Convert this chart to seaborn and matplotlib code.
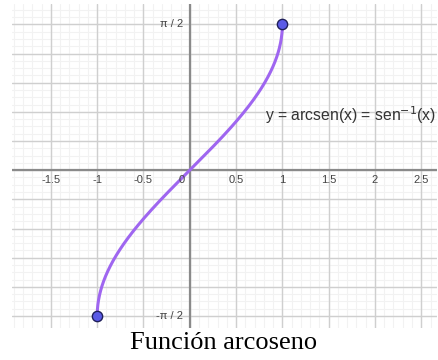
import numpy as np
import pandas as pd
import matplotlib
matplotlib.use("Agg")
import matplotlib.pyplot as plt
import seaborn as sns

# Domain of arcsin and its end points
domain = [-1.0, 1.0]
end_x = [-1.0, 1.0]
end_y = [-np.pi / 2, np.pi / 2]

x_ticks = [-1.5, -1, -0.5, 0, 0.5, 1, 1.5, 2, 2.5]
x_tick_labels = ["-1.5", "-1", "-0.5", "0", "0.5", "1", "1.5", "2", "2.5"]
y_ticks = [np.pi / 2, -np.pi / 2]
y_tick_labels = ["π / 2", "-π / 2"]

xs = np.linspace(domain[0], domain[1], 801)
curve = pd.DataFrame({"x": xs, "y": np.arcsin(xs)})
ends = pd.DataFrame({"x": end_x, "y": end_y})

sns.set_style("white")
plt.rcParams["font.family"] = ["Liberation Sans", "DejaVu Sans"]

fig = plt.figure(figsize=(4.38, 3.60), dpi=100)
ax = fig.add_axes([12 / 438, 1 - 328 / 360, 425 / 438, 324 / 360])

xmin, xmax = -1.92, 2.67
ymin, ymax = -1.70, 1.79
ax.set_xlim(xmin, xmax)
ax.set_ylim(ymin, ymax)

# grid: minor lines every 0.1 in x and pi/40 in y, major every 0.5 and pi/10
for gx in np.arange(-1.9, 2.7, 0.1):
    ax.axvline(gx, color="#f2f2f2", lw=0.8, zorder=0)
for gy in np.arange(-20, 23) * np.pi / 40:
    ax.axhline(gy, color="#f2f2f2", lw=0.8, zorder=0)
for gx in np.arange(-1.5, 2.6, 0.5):
    ax.axvline(gx, color="#cfcfcf", lw=1.0, zorder=1)
for gy in np.arange(-5, 6) * np.pi / 10:
    ax.axhline(gy, color="#cfcfcf", lw=1.0, zorder=1)

# axes
ax.axhline(0, color="#8a8a8a", lw=1.6, zorder=2)
ax.axvline(0, color="#8a8a8a", lw=1.6, zorder=2)

sns.lineplot(data=curve, x="x", y="y", ax=ax, color="#9f66f0", lw=2.2,
             zorder=3, sort=False)
sns.scatterplot(data=ends, x="x", y="y", ax=ax, color="#5a5ae6", s=55,
                edgecolor="#1f1f5a", linewidth=1.0, zorder=4)

for spine in ax.spines.values():
    spine.set_visible(False)
ax.set_xticks([])
ax.set_yticks([])
ax.set_xlabel("")
ax.set_ylabel("")

# tick labels along the axes
for v, t in zip(x_ticks, x_tick_labels):
    off = -0.085 if v == 0 else 0.0
    ax.text(v + off, -0.11, t, ha="center", va="center", fontsize=8,
            color="#444444", zorder=5)
for v, t in zip(y_ticks, y_tick_labels):
    ax.text(-0.07, v, t, ha="right", va="center", fontsize=8,
            color="#444444", zorder=5)

ax.text(0.81, 0.59, r"y = arcsen(x) = sen$^{-1}$(x)", ha="left", va="center",
        fontsize=11.3, color="#333333", zorder=5)

fig.text(224 / 438, 1 - 343 / 360, "Función arcoseno", ha="center", va="center",
         fontsize=19, family=["Liberation Serif", "DejaVu Serif"], color="black")

fig.savefig("out.png", dpi=100)
